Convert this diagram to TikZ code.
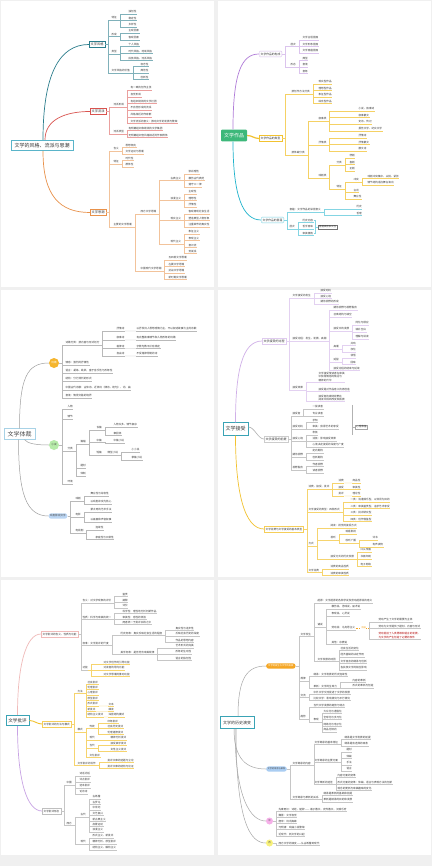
\documentclass[tikz,border=0pt]{standalone}
\usepackage{fontspec}
\setmainfont{Noto Sans CJK SC}
\definecolor{teal1}{HTML}{2B7D8C}
\definecolor{red1}{HTML}{D9534F}
\definecolor{org1}{HTML}{E8914A}
\definecolor{pur1}{HTML}{B07CD8}
\definecolor{gold1}{HTML}{F2C230}
\definecolor{cyan1}{HTML}{1FB3CC}
\definecolor{grn1}{HTML}{3DB87A}
\definecolor{teal2}{HTML}{3AA3B5}
\definecolor{rootb}{HTML}{5AB4C9}
\definecolor{blu3}{HTML}{A8D2E6}
\definecolor{yel3}{HTML}{F5B52E}
\definecolor{grn3}{HTML}{B6EBA9}
\definecolor{blu3b}{HTML}{BBD6F4}
\definecolor{org6}{HTML}{F5A623}
\definecolor{blu6}{HTML}{AACDF2}
\definecolor{pnk6}{HTML}{F5B0E8}
\definecolor{yel6}{HTML}{F7F07A}
\tikzset{
  lf/.style={anchor=west, inner xsep=0.4pt, inner ysep=0.6pt, font=\fontsize{2.6}{3.1}\selectfont, text=black!78,
    append after command={(\tikzlastnode.south west) edge[draw=#1, line width=0.3pt] (\tikzlastnode.south east)}},
  cn/.style={line width=0.3pt},
  bx/.style={anchor=west, draw=#1, line width=0.4pt, inner xsep=1.5pt, inner ysep=1.6pt, font=\fontsize{2.8}{3.3}\selectfont, text=black!80, fill=white},
  rbox/.style={draw=#1, line width=0.8pt, fill=white, text=black!80},
  brl/.style={draw=#1, line width=0.7pt},
}
\newcommand\LF[4]{\node[lf=\curc] (#1) at (#2,#3) {#4};}
\newcommand\CJ[2]{\foreach \q in {#2}{\draw[cn,draw=\curc] (#1.south east) -- ++(2.5,0) |- (\q.south west);}}
\newcommand\CB[2]{\foreach \q in {#2}{\draw[cn,draw=\curc] (#1.east) -- ++(3,0) |- (\q.south west);}}
\newcommand\CS[2]{\draw[cn,draw=\curc] (#1.south east) -- (#2.south west);}
\begin{document}
\begin{tikzpicture}[x=1pt,y=-1pt]
\useasboundingbox (0,0) rectangle (432,866);
\fill[black!6] (0,0) rectangle (432,866);
\fill[white] (1,1) rectangle (214,287);
\fill[white] (218,1) rectangle (431,287);
\fill[white] (1,290) rectangle (214,577);
\fill[white] (218,290) rectangle (431,577);
\fill[white] (1,580) rectangle (214,855);
\fill[white] (218,580) rectangle (431,855);

%% ================= Panel 1
\node[rbox=rootb, font=\fontsize{5}{6}\selectfont, inner xsep=3.5pt, inner ysep=3pt] (r1) at (42,145.5) {文学的风格、流派与思潮};
\node[bx=teal1, font=\fontsize{3.2}{3.8}\selectfont] (s11) at (89,44.5) {文学风格};
\node[bx=red1, font=\fontsize{3.2}{3.8}\selectfont] (s12) at (90,111.5) {文学流派};
\node[bx=org1, font=\fontsize{3.2}{3.8}\selectfont] (s13) at (90,212.5) {文学思潮};
\draw[brl=teal1] ([xshift=1pt]r1.north) .. controls +(0,-65) and +(-30,0) .. (s11.west);
\draw[brl=red1] ([xshift=3pt]r1.north) .. controls +(0,-20) and +(-25,0) .. (s12.west);
\draw[brl=org1] ([xshift=1pt]r1.south) .. controls +(0,45) and +(-30,0) .. (s13.west);

\def\curc{teal1!60}
\LF{a1}{111}{18}{特征}
\LF{a2}{111}{34.5}{形成}
\LF{a3}{111}{52}{类型}
\LF{a4}{111}{71}{文学风格的价值}
\LF{a11}{128}{12}{独创性}
\LF{a12}{128}{18.5}{稳定性}
\LF{a13}{128}{25}{多样性}
\LF{a21}{128}{31}{主观因素}
\LF{a22}{128}{38}{客观因素}
\LF{a31}{128}{44.5}{个人风格}
\LF{a32}{128}{51.5}{时代风格、地域风格}
\LF{a33}{128}{58.5}{民族风格、流派风格}
\LF{a41}{140}{64.5}{标志性}
\LF{a42}{140}{71}{典范性}
\LF{a43}{140}{77.5}{创新性}
\CB{s11}{a1,a2,a3,a4}
\CJ{a1}{a11,a12,a13}
\CJ{a2}{a21,a22}
\CJ{a3}{a31,a32,a33}
\CJ{a4}{a41,a42,a43}

\def\curc{red1!55}
\LF{b1}{113}{105}{流派形成}
\LF{b2}{113}{132}{流派类型}
\LF{b11}{130}{88}{有一致的创作主张}
\LF{b12}{130}{95}{自觉形成}
\LF{b13}{130}{101.5}{有组织纲领的文学社团}
\LF{b14}{130}{108}{不自觉形成的流派}
\LF{b15}{130}{115}{风格相近的作家群}
\LF{b16}{130}{121.5}{文学流派的意义：推动文学的发展与繁荣}
\LF{b21}{128}{128.5}{有明确组织和纲领的文学集团}
\LF{b22}{128}{135.5}{无明确组织但风格相近的作家群体}
\CB{s12}{b1,b2}
\CJ{b1}{b11,b12,b13,b14,b15,b16}
\CJ{b2}{b21,b22}

\def\curc{org1!55}
\LF{c1}{113}{149}{含义}
\LF{c2}{113}{162}{特征}
\LF{c3}{113}{225}{主要的文学思潮}
\LF{c11}{125}{145.5}{思想倾向}
\LF{c12}{125}{152}{文学运动与思潮}
\LF{c21}{125}{158.5}{时代性}
\LF{c22}{125}{165}{群体性}
\LF{c31}{140}{212}{西方文学思潮}
\LF{c32}{140}{269}{中国现代文学思潮}
\LF{d1}{170}{178.5}{古典主义}
\LF{d2}{170}{198.5}{浪漫主义}
\LF{d3}{170}{218.5}{现实主义}
\LF{d4}{170}{242}{现代主义}
\LF{d11}{188}{172}{崇尚理性}
\LF{d12}{188}{178.5}{模仿古代典范}
\LF{d13}{188}{185}{遵守三一律}
\LF{d21}{188}{192}{主观性}
\LF{d22}{188}{198.5}{理想性}
\LF{d23}{188}{205}{抒情性}
\LF{d31}{188}{212}{客观再现社会生活}
\LF{d32}{188}{218.5}{塑造典型人物形象}
\LF{d33}{188}{225}{注重细节的真实性}
\LF{d41}{188}{232}{象征主义}
\LF{d42}{188}{238.5}{表现主义}
\LF{d43}{188}{245}{意识流}
\LF{d44}{188}{251.5}{荒诞派}
\LF{c321}{168}{258}{五四新文学思潮}
\LF{c322}{168}{264.5}{左翼文学思潮}
\LF{c323}{168}{271}{抗战文学思潮}
\LF{c324}{168}{277.5}{新时期文学思潮}
\CB{s13}{c1,c2,c3}
\CJ{c1}{c11,c12}
\CJ{c2}{c21,c22}
\CJ{c3}{c31,c32}
\CJ{c31}{d1,d2,d3,d4}
\CJ{d1}{d11,d12,d13}
\CJ{d2}{d21,d22,d23}
\CJ{d3}{d31,d32,d33}
\CJ{d4}{d41,d42,d43,d44}
\CJ{c32}{c321,c322,c323,c324}

%% ================= Panel 2
\node[fill=grn1, text=white, font=\fontsize{5}{6}\selectfont, inner xsep=3pt, inner ysep=3.5pt, rounded corners=1pt] (r2) at (234,135.5) {文学作品};
\node[bx=pur1!50, rounded corners=1pt] (s21) at (259,54) {文学作品的构成};
\node[bx=gold1] (s22) at (259,138.5) {文学作品的类型};
\node[bx=cyan1!60, rounded corners=1pt] (s23) at (261,220) {文学作品的意蕴};
\draw[brl=pur1] ([xshift=-1pt]r2.north) .. controls +(0,-55) and +(-18,0) .. (s21.west);
\draw[gold1, line width=1.2pt] (r2.east) .. controls +(5,0) and +(-5,0) .. (s22.west);
\draw[brl=cyan1] ([xshift=-1pt]r2.south) .. controls +(0,55) and +(-18,0) .. (s23.west);

\def\curc{pur1!45}
\LF{e1}{290}{44.5}{层次}
\LF{e2}{290}{65}{形态}
\LF{e11}{302}{38}{文学言语层面}
\LF{e12}{302}{44.5}{文学形象层面}
\LF{e13}{302}{51}{文学意蕴层面}
\LF{e21}{302}{58.5}{典型}
\LF{e22}{302}{65}{意境}
\LF{e23}{302}{71.5}{意象}
\CB{s21}{e1,e2}
\CJ{e1}{e11,e12,e13}
\CJ{e2}{e21,e22,e23}

\def\curc{gold1!75}
\LF{f1}{291}{92}{按创作方法分类}
\LF{f2}{291}{153}{按体裁分类}
\LF{f11}{318}{82}{现实型作品}
\LF{f12}{318}{88.5}{理想型作品}
\LF{f13}{318}{95}{象征型作品}
\LF{f14}{318}{101.5}{综合型作品}
\LF{g1}{318}{119}{叙事类}
\LF{g2}{318}{143}{抒情类}
\LF{g3}{318}{176}{戏剧类}
\LF{g11}{358}{109}{小说、叙事诗}
\LF{g12}{358}{115.5}{叙事散文}
\LF{g13}{358}{122}{史诗、传记}
\LF{g14}{358}{129}{报告文学、纪实文学}
\LF{g21}{358}{136}{抒情诗}
\LF{g22}{358}{142.5}{抒情散文}
\LF{g23}{358}{149}{散文诗}
\LF{h1}{336}{163}{分类}
\LF{h2}{336}{187}{特征}
\LF{h11}{349}{156}{悲剧}
\LF{h12}{349}{162.5}{喜剧}
\LF{h13}{349}{169}{正剧}
\LF{h21}{353}{180}{冲突}
\LF{h22}{353}{190.5}{台词}
\LF{h23}{353}{197}{舞台性}
\LF{h211}{367}{176.5}{戏剧冲突集中、尖锐、紧张}
\LF{h212}{367}{183}{情节结构适应舞台演出}
\CB{s22}{f1,f2}
\CJ{f1}{f11,f12,f13,f14}
\CJ{f2}{g1,g2,g3}
\CJ{g1}{g11,g12,g13,g14}
\CJ{g2}{g21,g22,g23}
\CJ{g3}{h1,h2}
\CJ{h1}{h11,h12,h13}
\CJ{h2}{h21,h22,h23}
\CJ{h21}{h211,h212}

\def\curc{cyan1!55}
\LF{i1}{289}{210}{意蕴：文学作品的深层意义}
\LF{i11}{356}{207}{历史}
\LF{i12}{356}{213.5}{哲理}
\LF{i2}{289}{227}{层次}
\LF{i21}{302}{220.5}{历史内容}
\LF{i22}{302}{227}{哲学意味}
\LF{i23}{302}{233.5}{审美情韵}
\CB{s23}{i1,i2}
\CJ{i1}{i11,i12}
\CJ{i2}{i21,i22,i23}
\node[bx=black!55, font=\fontsize{2.4}{3}\selectfont, inner xsep=1pt, inner ysep=1pt] (sb2) at (318,227) {意蕴具有多义性};
\draw[cn,draw=\curc] (i21.east) -- ++(1.5,0) |- (i23.east);
\draw[cn,draw=\curc] ([xshift=1.5pt]i22.east) -- (sb2.west);

%% ================= Panel 3
\node[rbox=blu3, font=\fontsize{6}{7}\selectfont, inner xsep=3.5pt, inner ysep=2.6pt, text=black!70, line width=0.6pt] (r3) at (19.5,434) {文学体裁};
\node[circle, fill=yel3, inner sep=0pt, minimum size=10pt, font=\fontsize{2.6}{3}\selectfont, text=white] (y1) at (54,363) {诗歌};
\node[circle, fill=grn3, inner sep=0pt, minimum size=10pt, font=\fontsize{2.6}{3}\selectfont, text=black!70] (y2) at (54,445) {小说};
\node[rounded corners=2.5pt, fill=blu3b, inner xsep=1.5pt, inner ysep=1.5pt, font=\fontsize{2.6}{3}\selectfont, text=black!70] (y3) at (58,516) {戏剧影视文学};
\draw[gray!75, line width=.5pt] (r3.north) .. controls +(0,-50) and +(-22,0) .. (y1.west);
\draw[gray!75, line width=.5pt] ([xshift=5pt]r3.south) .. controls +(3,4) and +(-12,0) .. (y2.west);
\draw[gray!75, line width=.5pt] ([xshift=-1pt]r3.south) .. controls +(0,55) and +(-22,0) .. (y3.west);

\def\curc{gray!55}
\LF{j1}{65}{343}{诗歌分类：按内容与形式划分}
\LF{j2}{65}{363}{情感：强烈的抒情性}
\LF{j3}{65}{371}{语言：凝练、跳跃、富于音乐性与形象性}
\LF{j4}{65}{379}{结构：分行排列的形式}
\LF{j5}{65}{388}{中国古代诗歌：古体诗、近体诗（律诗、绝句）、词、曲}
\LF{j6}{65}{396}{意境：情景交融的境界}
\LF{k1}{116}{329}{抒情诗}
\LF{k2}{116}{338}{叙事诗}
\LF{k3}{116}{346.5}{格律诗}
\LF{k4}{116}{354}{自由诗}
\LF{k1t}{136}{329}{以抒发诗人思想感情为主，不以叙述故事为主的诗歌}
\LF{k2t}{136}{338}{有完整故事情节和人物形象的诗歌}
\LF{k3t}{136}{346.5}{字数句数平仄有规定}
\LF{k4t}{136}{354}{不受格律限制的诗}
\CB{y1}{j1,j2,j3,j4,j5,j6}
\CJ{j1}{k1,k2,k3,k4}
\CS{k1}{k1t}
\CS{k2}{k2t}
\CS{k3}{k3t}
\CS{k4}{k4t}

\LF{m1}{67}{407}{人物}
\LF{m2}{67}{417}{情节}
\LF{m3}{67}{449}{分类}
\LF{m4}{67}{482}{环境}
\LF{n1}{80}{442}{篇幅}
\LF{n2}{80}{466}{题材}
\LF{n3}{80}{474}{体制}
\LF{o1}{96}{428}{长篇}
\LF{o2}{96}{440.5}{中篇}
\LF{o3}{96}{453}{短篇}
\LF{o11}{113}{425}{人物众多、情节复杂}
\LF{o12}{113}{433}{章回体}
\LF{o21}{113}{441}{中篇小说}
\LF{p1}{107}{453}{微型小说}
\LF{p11}{131}{450}{小小说}
\LF{p12}{131}{458}{掌篇小说}
\CB{y2}{m1,m2,m3,m4}
\CJ{m3}{n1,n2,n3}
\CJ{n1}{o1,o2,o3}
\CJ{o1}{o11,o12}
\CJ{o2}{o21}
\CJ{o3}{p1}
\CJ{p1}{p11,p12}

\LF{q1}{75}{499}{戏剧}
\LF{q2}{75}{515}{电影}
\LF{q3}{75}{531}{电视剧}
\LF{q11}{90}{494}{舞台性与综合性}
\LF{q12}{90}{502}{以戏剧冲突为核心}
\LF{q21}{90}{510}{蒙太奇的艺术手法}
\LF{q22}{90}{520}{以画面和声音叙事}
\LF{q31}{95}{528}{连续性}
\LF{q32}{95}{537}{家庭性与日常性}
\CB{y3}{q1,q2,q3}
\CJ{q1}{q11,q12}
\CJ{q2}{q21,q22}
\CJ{q3}{q31,q32}

%% ================= Panel 4
\node[rbox=teal2, font=\fontsize{5}{6}\selectfont, inner xsep=2.5pt, inner ysep=4pt] (r4) at (235.5,429) {文学接受};
\node[bx=pur1!40, font=\fontsize{3}{3.5}\selectfont] (s41) at (262,341) {文学接受的过程};
\node[bx=gray!40, font=\fontsize{3}{3.5}\selectfont] (s42) at (264,439) {文学接受的前提};
\node[bx=gold1!80, font=\fontsize{2.6}{3.1}\selectfont] (s43) at (264,529) {文学消费与文学接受的基本类型};
\draw[brl=pur1!60] (r4.north) .. controls +(0,-50) and +(-20,0) .. (s41.west);
\draw[gray!60, line width=.6pt] ([yshift=2pt]r4.east) .. controls +(6,0) and +(-6,0) .. (s42.west);
\draw[brl=gold1] (r4.south) .. controls +(0,55) and +(-20,0) .. (s43.west);

\def\curc{pur1!35}
\LF{t1}{292}{296}{文学接受的发生}
\LF{t11}{320}{291}{接受动机}
\LF{t12}{320}{296.5}{接受心境}
\LF{t13}{320}{302}{期待视野的形成}
\LF{t2}{292}{339}{接受过程：发生、发展、高潮}
\LF{u1}{333}{308}{期待视野与视野融合}
\LF{u2}{333}{315}{召唤结构与填空}
\LF{u3}{333}{329}{接受中的发展}
\LF{u31}{355}{323}{同化与顺应}
\LF{u32}{355}{330}{填补空白}
\LF{u33}{355}{337}{理解与误读}
\LF{u4}{333}{347}{高潮}
\LF{u41}{350}{343.5}{共鸣}
\LF{u42}{350}{350}{净化}
\LF{u5}{333}{360}{延留}
\LF{u51}{350}{356}{领悟}
\LF{u52}{350}{362.5}{回味}
\LF{u6}{333}{368.5}{接受过程的结束与延续}
\LF{t3}{292}{388}{接受效果}
\node[lf=\curc, align=left, font=\fontsize{2.6}{3.2}\selectfont] (v1) at (318,377) {文学接受使读者在审美\\中获得情感的陶冶与\\精神的升华};
\LF{v2}{318}{389.5}{接受是对作品意义的再创造}
\node[lf=\curc, align=left, font=\fontsize{2.6}{3.2}\selectfont] (v3) at (318,398) {接受者的期待视野在\\阅读中得到改变和拓展};
\CB{s41}{t1,t2,t3}
\CJ{t1}{t11,t12,t13}
\CJ{t2}{u1,u2,u3,u4,u5,u6}
\CJ{u3}{u31,u32,u33}
\CJ{u4}{u41,u42}
\CJ{u5}{u51,u52}
\CJ{t3}{v1,v2,v3}

\def\curc{gray!45}
\LF{w1}{292}{414}{接受者}
\LF{w11}{312}{407}{一般读者}
\LF{w12}{312}{414}{专业读者}
\LF{w2}{292}{427}{接受动机}
\LF{w21}{312}{420.5}{求知}
\LF{w22}{312}{427}{审美：获得艺术的享受}
\LF{w3}{292}{439}{接受心境}
\LF{w31}{312}{433}{积极}
\LF{w32}{312}{439}{消极：影响接受效果}
\LF{w33}{312}{445}{心境决定接受的深度与广度}
\LF{w4}{292}{455}{期待视野}
\LF{w41}{312}{451}{定向期待}
\LF{w42}{312}{458}{创新期待}
\LF{w5}{292}{468}{视野融合}
\LF{w51}{312}{464.5}{作者视野}
\LF{w52}{312}{471}{读者视野}
\CB{s42}{w1,w2,w3,w4,w5}
\CJ{w1}{w11,w12}
\CJ{w2}{w21,w22}
\CJ{w3}{w31,w32,w33}
\CJ{w4}{w41,w42}
\CJ{w5}{w51,w52}
\node[bx=gray!70, font=\fontsize{2.6}{3}\selectfont, inner xsep=1pt, inner ysep=1pt] (sb4) at (355,427) {心理准备};
\path (sb4.west) ++(-3,0) coordinate (bk4);
\draw[cn,draw=gray!60] (bk4 |- w11.north) -- (bk4 |- w31.south);
\draw[cn,draw=gray!60] (bk4) -- (sb4.west);

\def\curc{gold1!70}
\LF{x1}{308}{487}{消费、接受、批评}
\LF{x11}{338}{481}{消费}
\LF{x12}{338}{487.5}{接受}
\LF{x13}{338}{494}{批评}
\LF{x111}{352}{481}{商品性}
\LF{x121}{352}{487.5}{审美性}
\LF{x131}{352}{494}{理论性}
\LF{x2}{308}{510}{文学接受的类型：四种形式}
\LF{x21}{350}{500}{一类：消遣娱乐型，以休闲为目的}
\LF{x22}{350}{506.5}{二类：审美鉴赏型，追求艺术享受}
\LF{x23}{350}{513}{三类：批评研究型}
\LF{x24}{350}{519.5}{四类：创作借鉴型}
\LF{x3}{308}{544}{方式}
\LF{yy31}{330}{526}{阅读：视觉的接受方式}
\LF{yy32}{330}{538}{视听}
\LF{yy321}{345}{532}{观看影视}
\LF{yy322}{345}{541}{收听广播}
\LF{yy3221}{372}{538}{评书}
\LF{yy3222}{372}{545}{有声读物}
\LF{yy33}{330}{557}{接受方式的历史发展}
\LF{yy331}{360}{550}{口头传播}
\LF{yy332}{360}{557}{书面印刷}
\LF{yy333}{360}{564}{电子网络}
\LF{x4}{308}{570.5}{文学消费}
\LF{x41}{330}{567}{消费的商品性质}
\LF{x42}{330}{573.5}{消费的审美性质}
\CB{s43}{x1,x2,x3,x4}
\CJ{x1}{x11,x12,x13}
\CS{x11}{x111}
\CS{x12}{x121}
\CS{x13}{x131}
\CJ{x2}{x21,x22,x23,x24}
\CJ{x3}{yy31,yy32,yy33}
\CJ{yy32}{yy321,yy322}
\CJ{yy322}{yy3221,yy3222}
\CJ{yy33}{yy331,yy332,yy333}
\CJ{x4}{x41,x42}

%% ================= Panel 5
\node[rbox=teal2, font=\fontsize{4.6}{5.5}\selectfont, inner xsep=2.3pt, inner ysep=3pt] (r5) at (17.5,720.5) {文学批评};
\node[bx=red1!40, font=\fontsize{2.6}{3.1}\selectfont] (s51) at (41,634) {文学批评的含义、性质与功能};
\node[bx=gold1!80, font=\fontsize{2.6}{3.1}\selectfont] (s52) at (42,724) {文学批评的方法与模式};
\node[bx=gray!50, font=\fontsize{2.6}{3.1}\selectfont] (s53) at (42,811) {文学批评形态};
\draw[brl=red1!40] (r5.north) .. controls +(0,-50) and +(-15,0) .. (s51.west);
\draw[gold1, line width=.9pt] (r5.east) .. controls +(5,0) and +(-5,0) .. (s52.west);
\draw[brl=pur1!70] (r5.south) .. controls +(0,55) and +(-15,0) .. (s53.west);

\def\curc{gray!45}
\LF{z1}{82}{601}{含义：对文学现象的评价}
\LF{z11}{122}{594.5}{鉴赏}
\LF{z12}{122}{600.5}{阐释}
\LF{z13}{122}{606}{评价}
\LF{z2}{82}{617}{性质：科学与审美的统一}
\LF{z21}{122}{611.5}{科学性：理性地分析判断作品}
\LF{z22}{122}{617}{审美性：感性的体验}
\LF{z23}{122}{622.5}{两者统一于批评实践之中}
\LF{z3}{82}{643}{标准：文学批评的尺度}
\LF{za}{120}{633}{历史标准：真实反映社会生活的程度}
\LF{za1}{175}{628}{真实性与进步性}
\LF{za2}{175}{634}{反映社会历史的深度}
\LF{za3}{175}{640}{作品的思想内容}
\LF{zb}{120}{652}{美学标准：是否符合审美规律}
\LF{zb1}{175}{646}{艺术形式的完美}
\LF{zb2}{175}{652}{形象的生动性}
\LF{zb3}{175}{658}{语言的独创性}
\LF{z4}{82}{668}{功能}
\CB{s51}{z1,z2,z3,z4}
\CJ{z1}{z11,z12,z13}
\CJ{z2}{z21,z22,z23}
\CJ{z3}{za,zb}
\CJ{za}{za1,za2,za3}
\CJ{zb}{zb1,zb2,zb3}
\def\curc{gold1!70}
\LF{z41}{103}{662}{对文学创作的引导功能}
\LF{z42}{103}{668}{对读者的导向功能}
\LF{z43}{103}{674}{对文学思潮的推动功能}
\CJ{z4}{z41,z42,z43}

\LF{aa}{77}{691}{方法}
\LF{aa1}{87}{682}{社会批评}
\LF{aa2}{87}{687.5}{伦理批评}
\LF{aa3}{87}{693}{心理批评}
\LF{aa4}{87}{698.5}{原型批评}
\LF{aa5}{87}{704}{形式批评}
\LF{aa6}{87}{709.5}{新批评}
\LF{aa7}{87}{715}{结构主义批评}
\LF{aa51}{108}{704}{文本}
\LF{aa61}{108}{709.5}{细读}
\LF{aa71}{108}{715}{深层结构模式}
\LF{ab}{77}{730}{模式}
\LF{ac}{89}{726}{传统}
\LF{ac1}{107}{721}{印象批评}
\LF{ac2}{107}{726.5}{社会历史批评}
\LF{ac3}{107}{732}{伦理道德批评}
\LF{ad}{89}{738}{现代}
\LF{ad1}{110}{738}{精神分析批评}
\LF{ae}{89}{746}{当代}
\LF{ae1}{110}{743.5}{接受美学批评}
\LF{ae2}{110}{749.5}{女性主义批评}
\LF{af}{89}{755}{文化批评}
\LF{ag}{77}{763}{文学批评的写作}
\LF{ag1}{107}{760}{批评文章的选题与立论}
\LF{ag2}{107}{766}{批评文章的结构与论证}
\CB{s52}{aa,ab,ag}
\CJ{aa}{aa1,aa2,aa3,aa4,aa5,aa6,aa7}
\CS{aa5}{aa51}
\CS{aa6}{aa61}
\CS{aa7}{aa71}
\CJ{ab}{ac,ad,ae,af}
\CJ{ac}{ac1,ac2,ac3}
\CJ{ad}{ad1}
\CJ{ae}{ae1,ae2}
\CJ{ag}{ag1,ag2}

\def\curc{gray!45}
\LF{ba}{66}{783}{中国}
\LF{ba1}{79}{774}{诗话词话}
\LF{ba2}{79}{780}{评点批评}
\LF{ba3}{79}{786}{选本批评}
\LF{ba4}{79}{792}{论诗诗}
\LF{bb}{66}{823}{西方}
\LF{bc}{80}{815}{古代}
\LF{bd}{80}{842}{现代}
\LF{bc1}{92}{797}{古希腊}
\LF{bc2}{92}{802.5}{古罗马}
\LF{bc3}{92}{808}{中世纪}
\LF{bc4}{92}{813.5}{文艺复兴}
\LF{bc5}{92}{819}{新古典主义}
\LF{bc6}{92}{824.5}{启蒙运动}
\LF{bc7}{92}{830}{浪漫主义}
\LF{bd1}{92}{836}{形式主义、新批评}
\LF{bd2}{92}{842}{精神分析、原型批评}
\LF{bd3}{92}{848}{结构主义、解构主义}
\CB{s53}{ba,bb}
\CJ{ba}{ba1,ba2,ba3,ba4}
\CJ{bb}{bc,bd}
\CJ{bc}{bc1,bc2,bc3,bc4,bc5,bc6,bc7}
\CJ{bd}{bd1,bd2,bd3}

%% ================= Panel 6
\node[rbox=teal2, font=\fontsize{4}{5}\selectfont, inner xsep=3pt, inner ysep=4pt] (r6) at (237,722.5) {文学的历史演变};
\node[fill=org6, rounded corners=2.5pt, inner xsep=2pt, inner ysep=1.6pt, font=\fontsize{2.3}{2.8}\selectfont, text=white, anchor=west] (s61) at (266,666) {文学的发生与文学的发展};
\node[fill=blu6, rounded corners=2.5pt, inner xsep=1.5pt, inner ysep=1.6pt, font=\fontsize{2.2}{2.7}\selectfont, text=black!70, anchor=west] (s62) at (266,769) {文学的继承与革新};
\node[circle, fill=pnk6, minimum size=7pt, inner sep=0pt, font=\fontsize{2.4}{2.8}\selectfont, text=black!70] (s63) at (269.5,821) {中};
\node[circle, fill=yel6, minimum size=7pt, inner sep=0pt, font=\fontsize{2.4}{2.8}\selectfont, text=black!70] (s64) at (269.5,843) {西};
\draw[gray!70, line width=.5pt] ([xshift=1pt]r6.north) .. controls +(0,-40) and +(-18,0) .. (s61.west);
\draw[gray!70, line width=.5pt] ([xshift=-3pt]r6.south) .. controls +(0,30) and +(-20,0) .. (s62.west);
\draw[gray!70, line width=.5pt] ([xshift=-2pt]r6.south) .. controls +(0,70) and +(-15,0) .. (s63.west);
\draw[gray!70, line width=.5pt] ([xshift=-1pt]r6.south) .. controls +(0,95) and +(-15,0) .. (s64.west);

\def\curc{gray!45}
\LF{ca}{300}{634}{文学发生}
\LF{cb}{317}{601}{起源：文学起源的各种学说及劳动起源说的意义}
\LF{cc}{317}{625}{诸说}
\LF{cd}{331}{607}{模仿说、游戏说、巫术说}
\LF{ce}{331}{614}{表现说、心灵说}
\LF{cf}{331}{628}{劳动说：马克思主义}
\LF{cl}{331}{642}{其他：宗教说}
\node[anchor=west, inner sep=0.3pt, font=\fontsize{2.2}{2.6}\selectfont, text=org6] (ch) at (361,628) {依据};
\draw[org6, line width=.3pt, dash pattern=on 1pt off 0.8pt] (cf.east) -- (ch.west);
\draw[org6, line width=.3pt, dash pattern=on 1pt off 0.8pt] (ch.east) -- ++(3,0) coordinate (chx);
\LF{ci}{378}{620}{劳动产生了文学的需要与主体}
\LF{cj}{378}{626.5}{劳动为文学提供了题材、内容与形式}
\node[lf=\curc, align=left, text=red!70!black, font=\fontsize{2.6}{3.1}\selectfont] (ck) at (378,635.5) {劳动促进了人类思维和语言的发展，\\为文学的产生创造了必要的条件};
\foreach \q in {ci,cj,ck}{\draw[cn,draw=\curc] (chx) |- (\q.south west);}
\LF{cm}{317}{659}{文学发展的动因}
\LF{cm1}{340}{648}{社会生活的变化}
\LF{cm2}{340}{655}{经济基础的决定作用}
\LF{cm3}{340}{661.5}{文学自身的继承与创新}
\LF{cm4}{340}{668}{各民族文学的相互影响}
\LF{cu}{300}{679}{规律}
\LF{co}{313}{674}{继承：文学发展的历史连续性}
\LF{cp}{313}{686}{革新：文学的生命力}
\LF{cp1}{352}{680}{内容的革新}
\LF{cp2}{352}{686}{形式的革新与创造}
\LF{cq}{300}{695}{交流}
\LF{cq1}{313}{692}{中外文学交流促进了文学的发展}
\LF{cq2}{313}{698}{比较文学：影响研究与平行研究}
\LF{cr}{300}{717}{趋势}
\LF{cs}{313}{705}{当代文学发展的趋势与特点}
\LF{ct}{313}{720}{表现}
\LF{ct1}{323}{711}{大众化与通俗化}
\LF{ct2}{323}{717.5}{全球化与多元化}
\LF{ct3}{323}{724}{网络化与电子化}
\LF{ct4}{323}{730}{商品化倾向}
\CB{s61}{ca,cu,cq,cr}
\CJ{ca}{cb,cc,cm}
\CJ{cc}{cd,ce,cf,cl}
\CJ{cm}{cm1,cm2,cm3,cm4}
\CJ{cu}{co,cp}
\CJ{cp}{cp1,cp2}
\CJ{cq}{cq1,cq2}
\CJ{cr}{cs,ct}
\CJ{ct}{ct1,ct2,ct3,ct4}

\LF{da}{292}{763}{文学继承的内容}
\LF{db}{314}{742}{文学继承的基本特征}
\LF{db1}{344}{737}{继承是文学发展的前提}
\LF{db2}{344}{744}{继承是有选择的吸收}
\LF{dc}{314}{760}{文学继承的主要方面}
\LF{dc1}{346}{750}{题材}
\LF{dc2}{346}{756.5}{体裁}
\LF{dc3}{346}{763}{手法}
\LF{dc4}{346}{769}{语言}
\LF{dd}{314}{782}{文学革新的途径}
\LF{dd1}{337}{775}{内容方面的变革}
\LF{dd2}{337}{782}{形式方面的变革：体裁、语言与表现方法的创新}
\LF{dd3}{337}{788.5}{观念的更新与审美趣味的变化}
\LF{de}{292}{797}{文学继承与革新的关系}
\LF{de1}{323}{793}{继承是革新的基础和前提}
\LF{de2}{323}{800}{革新是继承的目的和发展}
\CB{s62}{da,de}
\CJ{da}{db,dc,dd}
\CJ{db}{db1,db2}
\CJ{dc}{dc1,dc2,dc3,dc4}
\CJ{dd}{dd1,dd2,dd3}
\CJ{de}{de1,de2}

\LF{ea}{278}{809}{先秦两汉：诗经、楚辞 —— 诸子散文、史传散文、汉赋乐府}
\LF{eb}{278}{815}{魏晋：文学自觉}
\LF{ec}{278}{821}{唐宋：诗词高峰}
\LF{ed}{278}{827.5}{元明清：戏曲小说繁荣}
\LF{ee}{278}{834}{近现代：新文学的兴起}
\CB{s63}{ea,eb,ec,ed,ee}
\LF{fa}{278}{843}{西方文学的演变——从古希腊到现代}
\CB{s64}{fa}
\end{tikzpicture}
\end{document}
